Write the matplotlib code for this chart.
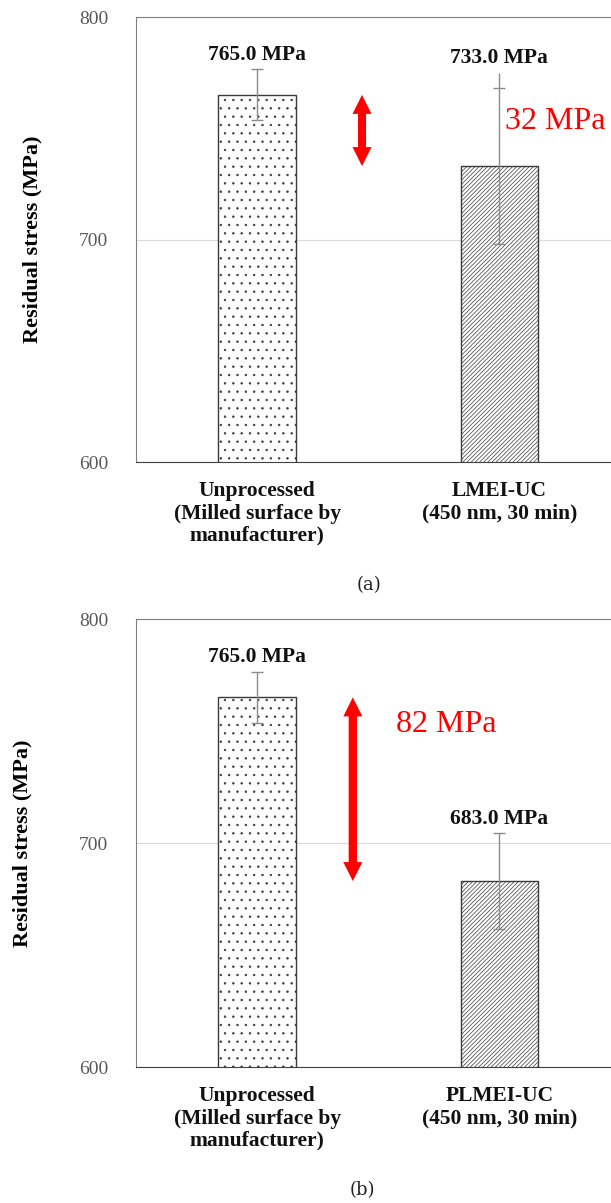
import matplotlib.pyplot as plt
import numpy as np

plt.rcParams['font.family'] = ['Liberation Serif', 'DejaVu Serif']
plt.rcParams['hatch.linewidth'] = 0.5

# panel (a)
labels_a = ['Unprocessed\n(Milled surface by\nmanufacturer)', 'LMEI-UC\n(450 nm, 30 min)']
stress_a = [765.0, 733.0]
err_a = [11.5, 35.0]
overshoot_a = [0.0, 7.0]   # whisker line runs past the cap on the LMEI bar

# panel (b)
labels_b = ['Unprocessed\n(Milled surface by\nmanufacturer)', 'PLMEI-UC\n(450 nm, 30 min)']
stress_b = [765.0, 683.0]
err_b = [11.5, 21.5]
overshoot_b = [0.0, 0.0]

y_ticks = [600, 700, 800]
hatches = ['..', '////////']

FIG_W, FIG_H = 611, 1203


def draw_panel(ax, labels, means, errs, overshoot, arrow_x, text_xy, label_x):
    x = np.arange(len(means))
    bars = ax.bar(x, means, width=0.32, color='white', edgecolor='#3a3a3a',
                  linewidth=1.0, zorder=2)
    for b, h in zip(bars, hatches):
        b.set_hatch(h)

    ax.errorbar(x, means, yerr=errs, fmt='none', ecolor='#8c8c8c',
                elinewidth=1.0, capsize=4, capthick=1.0, zorder=3)
    tops = [m + e + o for m, e, o in zip(means, errs, overshoot)]
    ax.vlines(x, [m + e for m, e in zip(means, errs)], tops,
              color='#8c8c8c', lw=1.0, zorder=3)

    for xi, m, t in zip(x, means, tops):
        ax.annotate(f'{m:.1f} MPa', xy=(xi, t), xytext=(0, 3),
                    textcoords='offset points', ha='center', va='bottom',
                    fontsize=15.5, fontweight='bold', color='#111111')

    # red double arrow showing the drop (two overlapping single arrows)
    px_x = ax.get_position().width * FIG_W / 2.0   # px per x unit
    px_y = ax.get_position().height * FIG_H / 200.0  # px per y unit
    head_len = 19 / px_y
    hi, lo = means[0], means[1]
    ax.arrow(arrow_x, lo + head_len, 0, hi - lo - head_len, width=8 / px_x,
             head_width=19 / px_x, head_length=head_len,
             length_includes_head=True, color='red', lw=0, zorder=4)
    ax.arrow(arrow_x, hi - head_len, 0, lo - hi + head_len, width=8 / px_x,
             head_width=19 / px_x, head_length=head_len,
             length_includes_head=True, color='red', lw=0, zorder=4)
    ax.text(text_xy[0], text_xy[1], f'{hi - lo:.0f} MPa',
            color='red', fontsize=23, ha='left', va='center', clip_on=False)

    ax.set_xlim(-0.5, 1.5)
    ax.set_ylim(600, 800)
    ax.set_yticks(y_ticks)
    ax.set_xticks(x)
    ax.set_xticklabels(labels, fontsize=15.5, fontweight='bold', color='#111111',
                       linespacing=1.15)
    ax.tick_params(axis='y', length=0, pad=20, labelsize=14, labelcolor='#595959')
    ax.tick_params(axis='x', length=0, pad=14)
    ax.yaxis.grid(True, color='#d9d9d9', lw=0.8)
    ax.set_axisbelow(True)
    for s in ('left', 'top', 'right'):
        ax.spines[s].set_color('#808080')
    ax.spines['bottom'].set_color('#404040')
    ax.set_ylabel('Residual stress (MPa)', fontsize=16, fontweight='bold')
    ax.yaxis.set_label_coords(label_x, 0.5)


fig = plt.figure(figsize=(FIG_W / 100, FIG_H / 100), dpi=100)
ax_a = fig.add_axes([136 / FIG_W, 1 - 462 / FIG_H, 484.5 / FIG_W, 445 / FIG_H])
ax_b = fig.add_axes([136 / FIG_W, 1 - 1067 / FIG_H, 484.5 / FIG_W, 448 / FIG_H])

draw_panel(ax_a, labels_a, stress_a, err_a, overshoot_a, 0.433, (1.025, 753), -0.194)
draw_panel(ax_b, labels_b, stress_b, err_b, overshoot_b, 0.395, (0.573, 753), -0.213)

fig.text(369 / FIG_W, 1 - 585 / FIG_H, '(a)', ha='center', va='center',
         fontsize=13, family='DejaVu Serif', color='#222222')
fig.text(362 / FIG_W, 1 - 1190 / FIG_H, '(b)', ha='center', va='center',
         fontsize=13, family='DejaVu Serif', color='#222222')

fig.savefig('out.png', dpi=100)
